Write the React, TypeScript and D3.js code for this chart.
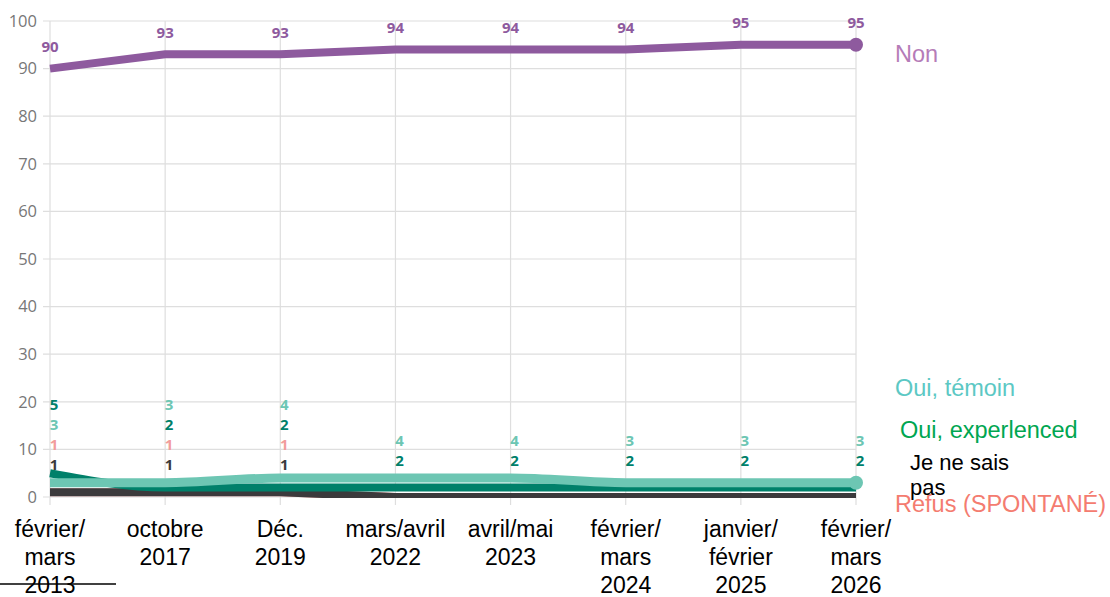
import React from "react";
import * as d3 from "d3";

const categories = ["2013", "2017", "2019", "2022", "2023", "2024", "2025", "2026"];
const categoryLabels = [
  ["février/", "mars", "2013"],
  ["octobre", "2017"],
  ["Déc.", "2019"],
  ["mars/avril", "2022"],
  ["avril/mai", "2023"],
  ["février/", "mars", "2024"],
  ["janvier/", "février", "2025"],
  ["février/", "mars", "2026"],
];
const nonValues = [90, 93, 93, 94, 94, 94, 95, 95];
const temoinValues = [3, 3, 4, 4, 4, 3, 3, 3];
const experiencedValues = [5, 2, 2, 2, 2, 2, 2, 2];
const refusValues = [1, 1, 1, 0, 0, 0, 0, 0];
const jnspValues = [1, 1, 1, 0, 0, 0, 0, 0];
// which points carry a value label (lower series)
const refusLabelled = [true, true, true, false, false, false, false, false];
const jnspLabelled = [true, true, true, false, false, false, false, false];
const yTicks = [0, 10, 20, 30, 40, 50, 60, 70, 80, 90, 100];

const W = 1110;
const H = 597;
const x = d3.scalePoint<string>().domain(categories).range([50, 856]);
const y = d3.scaleLinear().domain([0, 100]).range([497, 21]);

const C = {
  non: "#8e5a9e",
  nonLabel: "#b57cb8",
  temoin: "#6dc6b3",
  temoinLabel: "#5cc8c4",
  exp: "#00806a",
  expLabel: "#00a651",
  refus: "#f29c9c",
  refusLabel: "#f47c70",
  jnsp: "#3b3a3c",
  grid: "#dedede",
};

type Series = { key: string; values: number[]; color: string; width: number };

const lower: Series[] = [
  { key: "refus", values: refusValues, color: C.refus, width: 8 },
  { key: "jnsp", values: jnspValues, color: C.jnsp, width: 8 },
  { key: "exp", values: experiencedValues, color: C.exp, width: 8 },
  { key: "temoin", values: temoinValues, color: C.temoin, width: 9 },
];

const lineGen = (curve: d3.CurveFactory) =>
  d3
    .line<number>()
    .x((_, i) => x(categories[i]) as number)
    .y((d) => y(d))
    .curve(curve);

function lowerLabels() {
  const out: { x: number; y: number; text: string; color: string }[] = [];
  categories.forEach((c, i) => {
    const cx = x(c) as number;
    const items = [
      { v: jnspValues[i], color: C.jnsp, show: jnspLabelled[i] },
      { v: refusValues[i], color: C.refus, show: refusLabelled[i] },
      { v: experiencedValues[i], color: C.exp, show: true },
      { v: temoinValues[i], color: C.temoin, show: true },
    ].filter((d) => d.show);
    items.sort((a, b) => a.v - b.v);
    let prev = Infinity;
    items.forEach((it) => {
      let ly = y(it.v) - 27;
      if (ly > prev - 20) ly = prev - 20;
      prev = ly;
      out.push({ x: cx, y: ly, text: String(it.v), color: it.color });
    });
  });
  return out;
}

export default function App() {
  const lin = lineGen(d3.curveLinear);
  const mono = lineGen(d3.curveMonotoneX);
  const lastX = x(categories[categories.length - 1]) as number;
  const labels = lowerLabels();
  return (
    <svg
      width={W}
      height={H}
      style={{ position: "absolute", left: 0, top: 0, background: "#fff" }}
      fontFamily="'Liberation Sans', Arial, sans-serif"
    >
      <defs>
        <clipPath id="plotClip">
          <rect x={0} y={0} width={W} height={y(0) + 1} />
        </clipPath>
      </defs>
      {yTicks.map((t) => (
        <g key={t}>
          <line x1={43} x2={856} y1={y(t)} y2={y(t)} stroke={C.grid} strokeWidth={1.2} />
          <text
            x={37}
            y={y(t)}
            dy="0.35em"
            textAnchor="end"
            fontSize={16.5}
            fill="#777"
            fontFamily="'Open Sans', sans-serif"
          >
            {t}
          </text>
        </g>
      ))}
      {categories.map((c) => (
        <line key={c} x1={x(c)} x2={x(c)} y1={y(100)} y2={505} stroke={C.grid} strokeWidth={1.2} />
      ))}
      <g clipPath="url(#plotClip)">
        {lower.map((s) => (
          <path
            key={s.key}
            d={(s.key === "temoin" || s.key === "exp" ? mono : lin)(s.values) || ""}
            fill="none"
            stroke={s.color}
            strokeWidth={s.width}
          />
        ))}
      </g>
      <circle cx={lastX} cy={y(temoinValues[temoinValues.length - 1])} r={7} fill={C.temoin} />
      <path d={lin(nonValues) || ""} fill="none" stroke={C.non} strokeWidth={8} />
      <circle cx={lastX} cy={y(nonValues[nonValues.length - 1])} r={7} fill={C.non} />
      {nonValues.map((v, i) => (
        <text
          key={i}
          x={x(categories[i])}
          y={y(v) - 22}
          dy="0.35em"
          textAnchor="middle"
          fontSize={15}
          fontWeight={700}
          fill={C.non}
          fontFamily="'Open Sans', sans-serif"
        >
          {v}
        </text>
      ))}
      {labels.map((l, i) => (
        <text
          key={i}
          x={l.x + 4}
          y={l.y}
          dy="0.35em"
          textAnchor="middle"
          fontSize={15}
          fontWeight={700}
          fill={l.color}
          fontFamily="'Open Sans', sans-serif"
        >
          {l.text}
        </text>
      ))}
      {categories.map((c, i) => (
        <text key={c} textAnchor="middle" fontSize={23} fill="#000">
          {categoryLabels[i].map((ln, j) => (
            <tspan key={j} x={x(c)} y={537 + j * 28}>
              {ln}
            </tspan>
          ))}
        </text>
      ))}
      <line x1={0} x2={116} y1={584} y2={584} stroke="#000" strokeWidth={1.5} />
      <text x={895} y={62} fontSize={23.5} fill={C.nonLabel}>Non</text>
      <text x={895} y={396} fontSize={23.5} fill={C.temoinLabel}>Oui, témoin</text>
      <text x={900} y={438} fontSize={23.5} fill={C.expLabel}>Oui, experlenced</text>
      <text x={895} y={512} fontSize={23.5} fill={C.refusLabel}>Refus (SPONTANÉ)</text>
      <text fontSize={22} fill="#000">
        <tspan x={910} y={470}>Je ne sais</tspan>
        <tspan x={910} y={495}>pas</tspan>
      </text>
    </svg>
  );
}
